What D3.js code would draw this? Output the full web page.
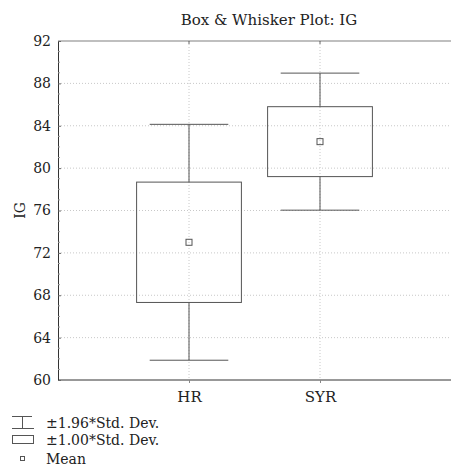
<!DOCTYPE html>
<html lang="en">
<head>
<meta charset="utf-8">
<script src="https://cdn.jsdelivr.net/npm/d3@7"></script>
<title>Box & Whisker Plot: IG</title>
<style>
  html, body { margin: 0; background: #fff; overflow: hidden; width: 451px; height: 466px; }
  svg { display: block; }
  svg text { font-family: "DejaVu Serif", serif; fill: #222; }
  .grid line { stroke: #c8c8c8; stroke-dasharray: 1,2; }
  .box, .whisker { stroke: #555; fill: none; stroke-width: 1; }
</style>
</head>
<body>
<div id="chart"></div>
<script>
// values
var categories = ["HR", "SYR"];
var means = [73.0, 82.5];
var stdDevs = [5.68, 3.30];
var yTicks = [60, 64, 68, 72, 76, 80, 84, 88, 92];
var legendLabels = ["\u00b11.96*Std. Dev.", "\u00b11.00*Std. Dev.", "Mean"];
var whiskerMult = 1.96, boxMult = 1.00;

var width = 451, height = 466;
var margin = {top: 41, right: 0, bottom: 86, left: 58};
var fontSize = "14px";

var svg = d3.select("#chart").append("svg")
  .attr("width", width)
  .attr("height", height);

var x = d3.scalePoint()
  .domain(categories)
  .range([margin.left, width - margin.right])
  .padding(1);

var y = d3.scaleLinear()
  .domain([60, 92])
  .range([height - margin.bottom, margin.top]);

var step = x.step();

// gridlines
var grid = svg.append("g").attr("class", "grid");
grid.selectAll(".hg")
  .data(yTicks.slice(1, -1))
  .enter().append("line")
  .attr("x1", margin.left).attr("x2", width)
  .attr("y1", function(d) { return y(d); })
  .attr("y2", function(d) { return y(d); });
grid.selectAll(".vg")
  .data(categories)
  .enter().append("line")
  .attr("x1", function(d) { return x(d); })
  .attr("x2", function(d) { return x(d); })
  .attr("y1", y(92)).attr("y2", y(60));

// top and bottom frame lines
svg.append("line")
  .attr("x1", margin.left).attr("x2", width)
  .attr("y1", y(92)).attr("y2", y(92))
  .attr("stroke", "#808080").attr("stroke-width", 1.2);
svg.append("line")
  .attr("x1", margin.left).attr("x2", width)
  .attr("y1", y(60)).attr("y2", y(60))
  .attr("stroke", "#333");

// left axis
var yAxis = d3.axisLeft(y).tickValues(yTicks).tickSize(-3).tickPadding(7);
var gy = svg.append("g")
  .attr("transform", "translate(" + margin.left + ",0)")
  .call(yAxis);
gy.select(".domain").attr("stroke", "#333");
gy.selectAll(".tick line").attr("stroke", "#666");
gy.selectAll(".tick text").style("font-size", fontSize);

// minor ticks
svg.append("g").selectAll("line")
  .data(d3.range(61, 92).filter(function(d) { return d % 4 !== 0; }))
  .enter().append("line")
  .attr("x1", margin.left).attr("x2", margin.left + 2)
  .attr("y1", function(d) { return y(d); })
  .attr("y2", function(d) { return y(d); })
  .attr("stroke", "#999");

// bottom axis (ticks and labels only)
var xAxis = d3.axisBottom(x).tickSize(3).tickPadding(8);
var gx = svg.append("g")
  .attr("transform", "translate(0," + y(60) + ")")
  .call(xAxis);
gx.select(".domain").remove();
gx.selectAll(".tick line").attr("stroke", "#888");
gx.selectAll(".tick text").style("font-size", "15px");

// top category ticks
svg.append("g").selectAll("line")
  .data(categories)
  .enter().append("line")
  .attr("x1", function(d) { return x(d); })
  .attr("x2", function(d) { return x(d); })
  .attr("y1", y(92)).attr("y2", y(92) + 3)
  .attr("stroke", "#666");

// boxes and whiskers
var groups = svg.append("g").selectAll("g")
  .data(categories)
  .enter().append("g");

groups.each(function(c, i) {
  var g = d3.select(this);
  var cx = x(c);
  var m = means[i], s = stdDevs[i];
  var bw = step * 0.8, cw = step * 0.6;
  var wHi = m + whiskerMult * s, wLo = m - whiskerMult * s;
  var bHi = m + boxMult * s, bLo = m - boxMult * s;

  g.append("line").attr("class", "whisker")
    .attr("x1", cx).attr("x2", cx).attr("y1", y(wHi)).attr("y2", y(bHi));
  g.append("line").attr("class", "whisker")
    .attr("x1", cx).attr("x2", cx).attr("y1", y(bLo)).attr("y2", y(wLo));
  g.append("line").attr("class", "whisker")
    .attr("x1", cx - cw / 2).attr("x2", cx + cw / 2).attr("y1", y(wHi)).attr("y2", y(wHi));
  g.append("line").attr("class", "whisker")
    .attr("x1", cx - cw / 2).attr("x2", cx + cw / 2).attr("y1", y(wLo)).attr("y2", y(wLo));
  g.append("rect").attr("class", "box")
    .attr("x", cx - bw / 2).attr("width", bw)
    .attr("y", y(bHi)).attr("height", y(bLo) - y(bHi));
  g.append("rect").attr("class", "box")
    .attr("x", cx - 3).attr("y", y(m) - 3)
    .attr("width", 6).attr("height", 6);
});

// title
svg.append("text")
  .attr("x", 269).attr("y", 25)
  .attr("text-anchor", "middle")
  .style("font-size", "15px")
  .text("Box & Whisker Plot: IG");

// y label
svg.append("text")
  .attr("transform", "translate(25," + y(76) + ") rotate(-90)")
  .attr("text-anchor", "middle")
  .style("font-size", fontSize)
  .text("IG");

// legend
var lg = svg.append("g");
var ly = [423, 440, 459];
lg.append("path").attr("class", "whisker")
  .attr("d", "M12,416.5H32M22.5,416.5V428.5M12,428.5H34");
lg.append("rect").attr("class", "box")
  .attr("x", 12.5).attr("y", 435.5).attr("width", 21).attr("height", 8);
lg.append("rect").attr("class", "box")
  .attr("x", 20.5).attr("y", 456.5).attr("width", 4).attr("height", 4);
lg.selectAll("text")
  .data(legendLabels)
  .enter().append("text")
  .attr("x", 46)
  .attr("y", function(d, i) { return ly[i]; })
  .attr("dy", "0.35em")
  .style("font-size", fontSize)
  .text(function(d) { return d; });
</script>
</body>
</html>
